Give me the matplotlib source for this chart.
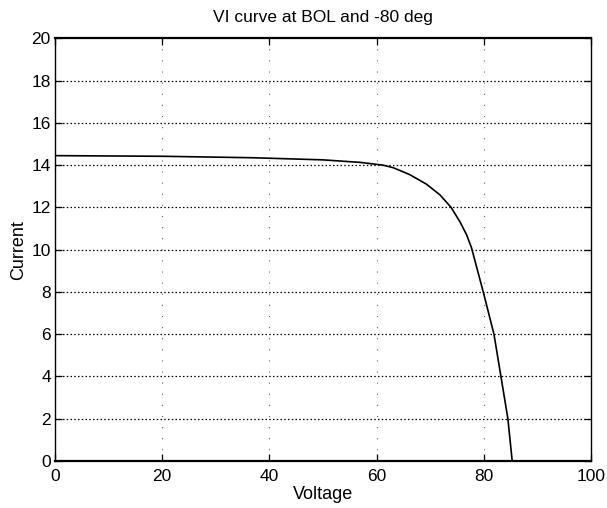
import numpy as np
import matplotlib.pyplot as plt

# VI curve
voltage = [0, 20, 37, 50, 57, 61.2, 63.1, 66.2, 69.3, 71.8, 73.9,
           75.6, 76.8, 77.7, 79.9, 81.9, 83.2, 84.5, 85.3]
current = [14.45, 14.42, 14.35, 14.25, 14.13, 14.0, 13.88, 13.55, 13.1, 12.6, 12.0,
           11.3, 10.7, 10.1, 8.0, 6.0, 4.0, 2.0, 0.0]

xticks = [0, 20, 40, 60, 80, 100]
yticks = [0, 2, 4, 6, 8, 10, 12, 14, 16, 18, 20]

plt.rcParams['font.family'] = ['Liberation Sans', 'DejaVu Sans']

fig = plt.figure(figsize=(6.07, 5.08), dpi=100)
ax = fig.add_axes([0.0906, 0.0925, 0.883, 0.832])

# horizontal dotted grid, vertical grid barely visible in the scan
for y in yticks[1:-1]:
    ax.axhline(y, color='black', lw=0.9, ls=(0, (1.2, 1.8)), zorder=1)
for x in xticks[1:-1]:
    ax.axvline(x, color='black', lw=0.8, ls=(0, (1, 9)), alpha=0.6, zorder=1)

ax.plot(voltage, current, color='black', lw=1.2, zorder=3)

ax.set_xlim(0, 100)
ax.set_ylim(0, 20)
ax.set_xticks(xticks)
ax.set_yticks(yticks)
ax.tick_params(direction='in', top=True, right=True, length=5, width=0.9,
               labelsize=12.5, colors='black')
ax.tick_params(axis='x', pad=6)
ax.tick_params(axis='y', pad=3)
for side in ['top', 'bottom']:
    ax.spines[side].set_linewidth(1.6)
for side in ['left', 'right']:
    ax.spines[side].set_linewidth(1.0)

ax.set_title('VI curve at BOL and -80 deg', fontsize=12.5, pad=12)
ax.set_xlabel('Voltage', fontsize=13, labelpad=1)
ax.set_ylabel('Current', fontsize=13, labelpad=3)

fig.savefig('out.png', dpi=100)
